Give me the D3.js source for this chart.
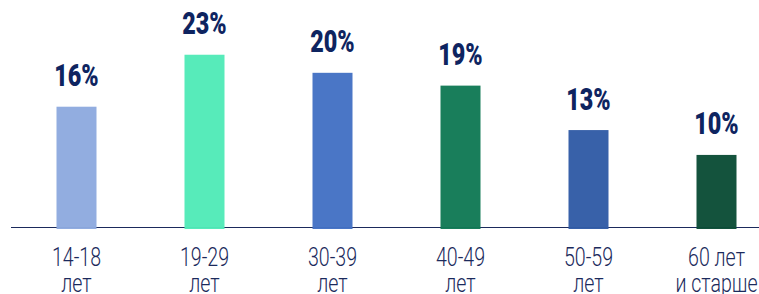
<!DOCTYPE html>
<html>
<head>
<meta charset="utf-8">
<script src="https://cdn.jsdelivr.net/npm/d3@7"></script>
<style>
    body { margin: 0; background: #fff; }
    svg { display: block; }
</style>
</head>
<body>
<svg width="759" height="294"></svg>
<script>
const categories = ["14-18|лет", "19-29|лет", "30-39|лет", "40-49|лет", "50-59|лет", "60 лет|и старше"];
const values = [16.1, 23.0, 20.6, 18.9, 13.0, 9.7];
const labels = ["16%", "23%", "20%", "19%", "13%", "10%"];
const colors = ["#8eaadf", "#52eab8", "#4472c4", "#127a56", "#325ca6", "#0c4d37"];

const svg = d3.select("svg");
const baseY = 228;

const x = d3.scaleBand()
    .domain(categories)
    .range([12.5, 780.5])
    .paddingInner(0.6875)
    .paddingOuter(0.34375);

const y = d3.scaleLinear()
    .domain([0, 30])
    .range([baseY, baseY - 226]);

// axis line
svg.append("line")
    .attr("x1", 11)
    .attr("x2", 759)
    .attr("y1", baseY - 0.5)
    .attr("y2", baseY - 0.5)
    .attr("stroke", "#1b2a5c")
    .attr("stroke-width", 1.2);

svg.append("g")
    .selectAll("rect")
    .data(values)
    .enter()
    .append("rect")
    .attr("x", (d, i) => x(categories[i]))
    .attr("width", x.bandwidth())
    .attr("y", d => y(d))
    .attr("height", d => y(0) - y(d) + 1)
    .attr("fill", (d, i) => colors[i])
    .attr("fill-opacity", 0.97);

// value labels
svg.append("g")
    .selectAll("text")
    .data(values)
    .enter()
    .append("text")
    .attr("transform", (d, i) =>
        `translate(${x(categories[i]) + x.bandwidth() / 2},${y(d) - 20.5}) scale(0.73,1)`)
    .attr("text-anchor", "middle")
    .attr("font-family", "Roboto")
    .attr("font-weight", 900)
    .attr("font-size", 32)
    .attr("fill", "#0e2460")
    .text((d, i) => labels[i]);

// category labels
const cat = svg.append("g")
    .selectAll("text")
    .data(categories)
    .enter()
    .append("text")
    .attr("transform", d => `translate(${x(d) + x.bandwidth() / 2},265.7) scale(0.74,1)`)
    .attr("text-anchor", "middle")
    .attr("font-family", "Roboto")
    .attr("font-weight", 300)
    .attr("font-size", 26.5)
    .attr("fill", "#1b2a5c");

cat.selectAll("tspan")
    .data(d => d.split("|"))
    .enter()
    .append("tspan")
    .attr("x", 0)
    .attr("dy", (d, i) => i === 0 ? 0 : 26.6)
    .text(d => d);
</script>
</body>
</html>
